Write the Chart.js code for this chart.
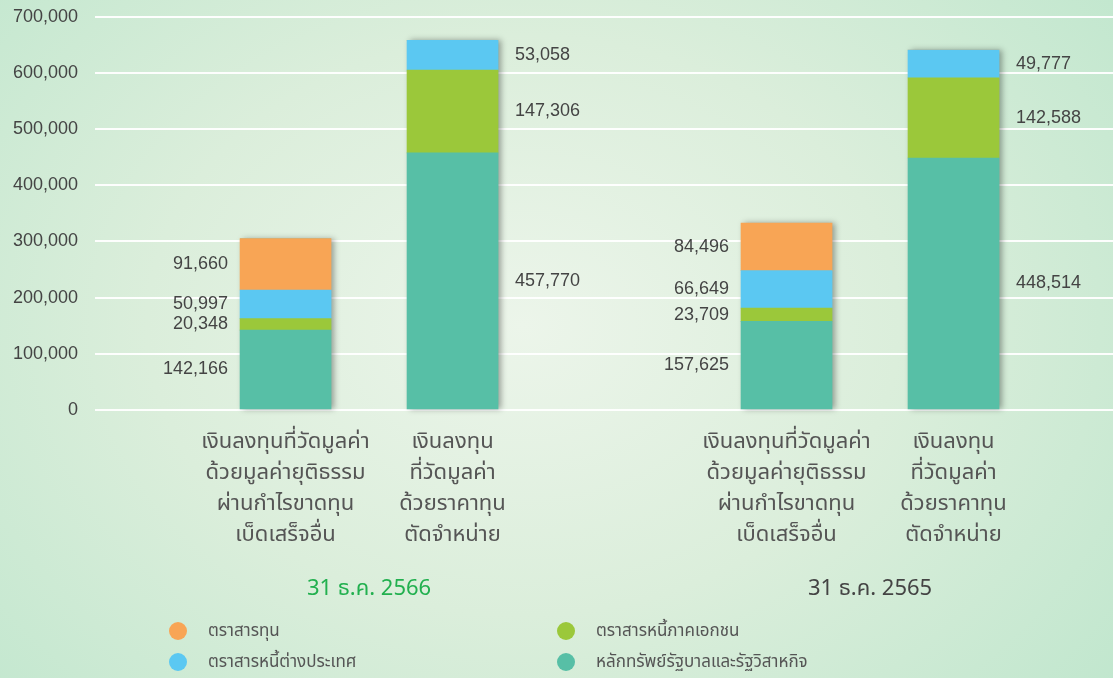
<!DOCTYPE html>
<html>
<head>
<meta charset="utf-8">
<script src="https://cdn.jsdelivr.net/npm/chart.js@4"></script>
<style>
  html, body { margin: 0; padding: 0; }
  body {
    width: 1113px; height: 678px; overflow: hidden; position: relative;
    background: radial-gradient(ellipse 75% 95% at 47% 48%, #ecf5ea 0%, #dbeedb 45%, #bbe5cb 100%);
    font-family: "Noto Sans Thai", "Noto Sans", "DejaVu Sans", sans-serif;
  }
  .chart-box { position: absolute; left: 0; top: -11px; width: 1113px; height: 689px; }
  .legend { position: absolute; left: 169px; top: 618px; display: grid;
    grid-template-columns: 388px 300px; row-gap: 6px; }
  .legend-item { display: flex; align-items: center; font-size: 17px; color: #555; height: 25px; }
  .legend-dot { width: 18px; height: 18px; border-radius: 50%; margin-right: 21px; }
</style>
</head>
<body>
<div class="chart-box"><canvas id="portfolioChart"></canvas></div>
<div class="legend" id="legend"></div>
<script>
// bars, left to right (two per date)
const barLabels = [
  ['เงินลงทุนที่วัดมูลค่า', 'ด้วยมูลค่ายุติธรรม', 'ผ่านกำไรขาดทุน', 'เบ็ดเสร็จอื่น'],
  ['เงินลงทุน', 'ที่วัดมูลค่า', 'ด้วยราคาทุน', 'ตัดจำหน่าย'],
  ['เงินลงทุนที่วัดมูลค่า', 'ด้วยมูลค่ายุติธรรม', 'ผ่านกำไรขาดทุน', 'เบ็ดเสร็จอื่น'],
  ['เงินลงทุน', 'ที่วัดมูลค่า', 'ด้วยราคาทุน', 'ตัดจำหน่าย']
];
const dateLabels = ['31 ธ.ค. 2566', '31 ธ.ค. 2565'];

// stack from bottom to top
const govBonds = [142166, 457770, 157625, 448514];
const corpBonds = [20348, 147306, 23709, 142588];
const foreignBonds = [50997, 53058, 66649, 49777];
const equities = [91660, 0, 84496, 0];

const yTicks = [0, 100000, 200000, 300000, 400000, 500000, 600000, 700000];

// bars sit in slots 1,2 and 4,5 (empty slot between the two dates)
const slotOf = i => i + 1 + (i >= 2 ? 1 : 0);
const toPoints = arr => arr.map((v, i) => ({ x: slotOf(i), y: v }));

const series = [
  { label: 'หลักทรัพย์รัฐบาลและรัฐวิสาหกิจ', data: govBonds, color: '#57bfa6' },
  { label: 'ตราสารหนี้ภาคเอกชน', data: corpBonds, color: '#9bc83a' },
  { label: 'ตราสารหนี้ต่างประเทศ', data: foreignBonds, color: '#5bc8f2' },
  { label: 'ตราสารทุน', data: equities, color: '#f8a555' }
];

const textColor = '#444';
const numFont = '18px "Liberation Sans", Arial, sans-serif';
const thaiFont = '"Noto Sans Thai", "Noto Sans", sans-serif';

const barShadow = {
  id: 'barShadow',
  beforeDatasetsDraw(chart) {
    const ctx = chart.ctx;
    const first = chart.getDatasetMeta(0).data;
    const last = chart.getDatasetMeta(series.length - 1).data;
    ctx.save();
    ctx.shadowColor = 'rgba(0,0,0,0.35)';
    ctx.shadowBlur = 6;
    ctx.shadowOffsetX = 3;
    ctx.fillStyle = '#57bfa6';
    first.forEach((bar, i) => {
      const top = last[i].y;
      ctx.fillRect(bar.x - bar.width / 2, top, bar.width, bar.base - top);
    });
    ctx.restore();
  }
};

const valueLabels = {
  id: 'valueLabels',
  afterDatasetsDraw(chart) {
    const ctx = chart.ctx;
    ctx.save();
    ctx.font = numFont;
    ctx.fillStyle = textColor;
    ctx.textBaseline = 'middle';
    series.forEach((s, d) => {
      chart.getDatasetMeta(d).data.forEach((bar, i) => {
        const v = s.data[i];
        if (!v) return;
        const left = i % 2 === 0;
        const y = (bar.y + bar.base) / 2;
        ctx.textAlign = left ? 'right' : 'left';
        const x = left ? bar.x - bar.width / 2 - 12 : bar.x + bar.width / 2 + 17;
        ctx.fillText(v.toLocaleString('en-US'), x, y);
      });
    });
    ctx.restore();
  }
};

const xRange = { min: -0.141, max: 5.955 };

new Chart(document.getElementById('portfolioChart'), {
  type: 'bar',
  data: {
    datasets: series.map(s => ({
      label: s.label,
      data: toPoints(s.data),
      backgroundColor: s.color,
      borderWidth: 0,
      barThickness: 91
    }))
  },
  options: {
    responsive: true,
    maintainAspectRatio: false,
    animation: false,
    layout: { padding: { left: 10, top: 5, right: 0, bottom: 67 } },
    plugins: { legend: { display: false }, tooltip: { enabled: false } },
    scales: {
      x: {
        type: 'linear',
        stacked: true,
        offset: false,
        min: xRange.min,
        max: xRange.max,
        weight: 0,
        grid: { display: false },
        border: { display: false },
        afterBuildTicks: scale => { scale.ticks = barLabels.map((_, i) => ({ value: slotOf(i) })); },
        ticks: {
          autoSkip: false,
          maxRotation: 0,
          padding: 10,
          color: '#555',
          font: { family: thaiFont, size: 22, lineHeight: 1.41 },
          callback: (value, index) => barLabels[index]
        }
      },
      x2: {
        type: 'linear',
        position: 'bottom',
        offset: false,
        min: xRange.min,
        max: xRange.max,
        weight: 1,
        grid: { display: false },
        border: { display: false },
        afterBuildTicks: scale => { scale.ticks = dateLabels.map((_, i) => ({ value: 1.5 + i * 3 })); },
        ticks: {
          autoSkip: false,
          maxRotation: 0,
          padding: 5,
          color: ctx => ctx.index === 0 ? '#22b04f' : '#444',
          font: { family: thaiFont, size: 22, lineHeight: 1.41 },
          callback: (value, index) => dateLabels[index]
        }
      },
      y: {
        stacked: true,
        min: 0,
        max: 700000,
        afterBuildTicks: scale => { scale.ticks = yTicks.map(v => ({ value: v })); },
        afterFit: scale => { scale.width = 85; },
        grid: { color: 'rgba(255,255,255,0.95)', lineWidth: 2, drawTicks: false },
        border: { display: false },
        ticks: {
          padding: 17,
          color: textColor,
          font: { family: '"Liberation Sans", Arial, sans-serif', size: 18 },
          callback: v => v.toLocaleString('en-US')
        }
      }
    }
  },
  plugins: [barShadow, valueLabels]
});

// legend: two columns, order as in the report
const legendOrder = [3, 1, 2, 0];
document.getElementById('legend').innerHTML = legendOrder.map(d =>
  '<div class="legend-item"><span class="legend-dot" style="background:' + series[d].color + '"></span>' +
  series[d].label + '</div>').join('');
</script>
</body>
</html>
